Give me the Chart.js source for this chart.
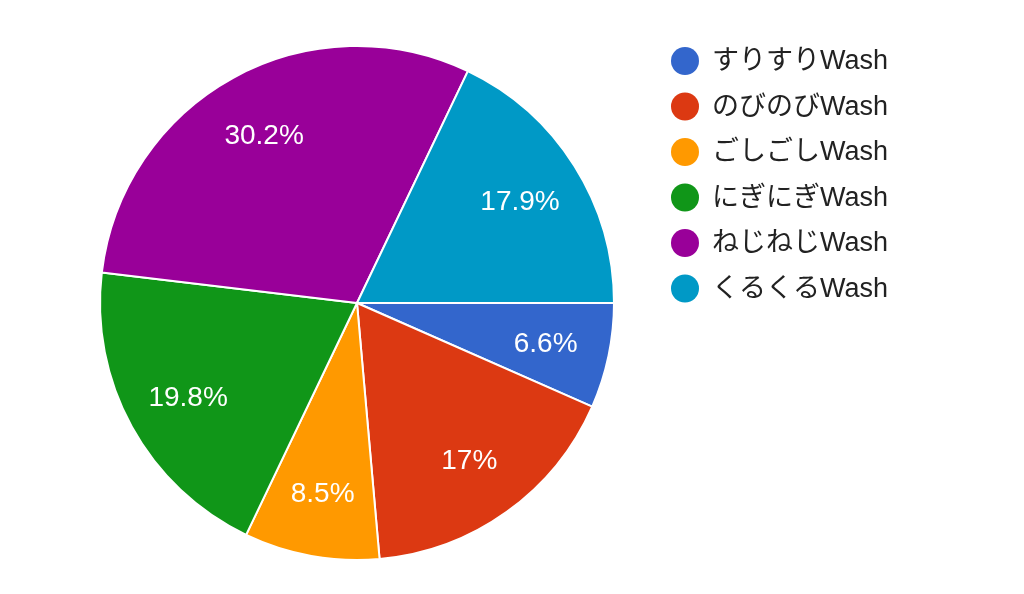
<!DOCTYPE html>
<html>
<head>
<meta charset="utf-8">
<script src="https://cdn.jsdelivr.net/npm/chart.js@4"></script>
<style>
    html, body { margin: 0; padding: 0; background: #ffffff; }
    #wrap { width: 1024px; height: 594px; position: relative; }
</style>
</head>
<body>
<div id="wrap"><canvas id="washChart"></canvas></div>
<script>
const labels = ["すりすりWash", "のびのびWash", "ごしごしWash", "にぎにぎWash", "ねじねじWash", "くるくるWash"];
const shares = [6.6, 17, 8.5, 19.8, 30.2, 17.9];
const sliceColors = ["#3366cc", "#dc3912", "#ff9900", "#109618", "#990099", "#0099c6"];

const FONT = '"Liberation Sans", Arial, "Noto Sans CJK JP", sans-serif';

// percentage text inside each slice
const sliceLabels = {
    id: "sliceLabels",
    afterDatasetsDraw(chart) {
        const { ctx } = chart;
        const meta = chart.getDatasetMeta(0);
        ctx.save();
        ctx.fillStyle = "#ffffff";
        ctx.font = "28px " + FONT;
        ctx.textAlign = "center";
        ctx.textBaseline = "middle";
        meta.data.forEach((arc, i) => {
            const { x, y, startAngle, endAngle, outerRadius } = arc.getProps(
                ["x", "y", "startAngle", "endAngle", "outerRadius"], true);
            const mid = (startAngle + endAngle) / 2;
            const r = outerRadius * 0.75;
            ctx.fillText(shares[i] + "%", x + Math.cos(mid) * r, y + Math.sin(mid) * r + 2);
        });
        ctx.restore();
    },
};

// legend on the right, circles + names
const sideLegend = {
    id: "sideLegend",
    afterDraw(chart) {
        const { ctx } = chart;
        ctx.save();
        ctx.font = "27px " + FONT;
        ctx.textBaseline = "middle";
        ctx.textAlign = "left";
        labels.forEach((name, i) => {
            const y = 61 + i * 45.5;
            ctx.beginPath();
            ctx.arc(685, y, 14, 0, Math.PI * 2);
            ctx.fillStyle = sliceColors[i];
            ctx.fill();
            ctx.fillStyle = "#222222";
            ctx.fillText(name, 712, y + 1);
        });
        ctx.restore();
    },
};

const ctx = document.getElementById("washChart").getContext("2d");

new Chart(ctx, {
    type: "pie",
    data: {
        labels: labels,
        datasets: [
            {
                data: shares,
                backgroundColor: sliceColors,
                borderColor: "#ffffff",
                borderWidth: 2,
            },
        ],
    },
    options: {
        responsive: true,
        maintainAspectRatio: false,
        animation: false,
        rotation: 90, // start at 3 o'clock like the original
        layout: {
            padding: { left: 99, right: 409, top: 45, bottom: 33 },
        },
        plugins: {
            legend: { display: false },
            tooltip: { enabled: false },
        },
    },
    plugins: [sliceLabels, sideLegend],
});
</script>
</body>
</html>
